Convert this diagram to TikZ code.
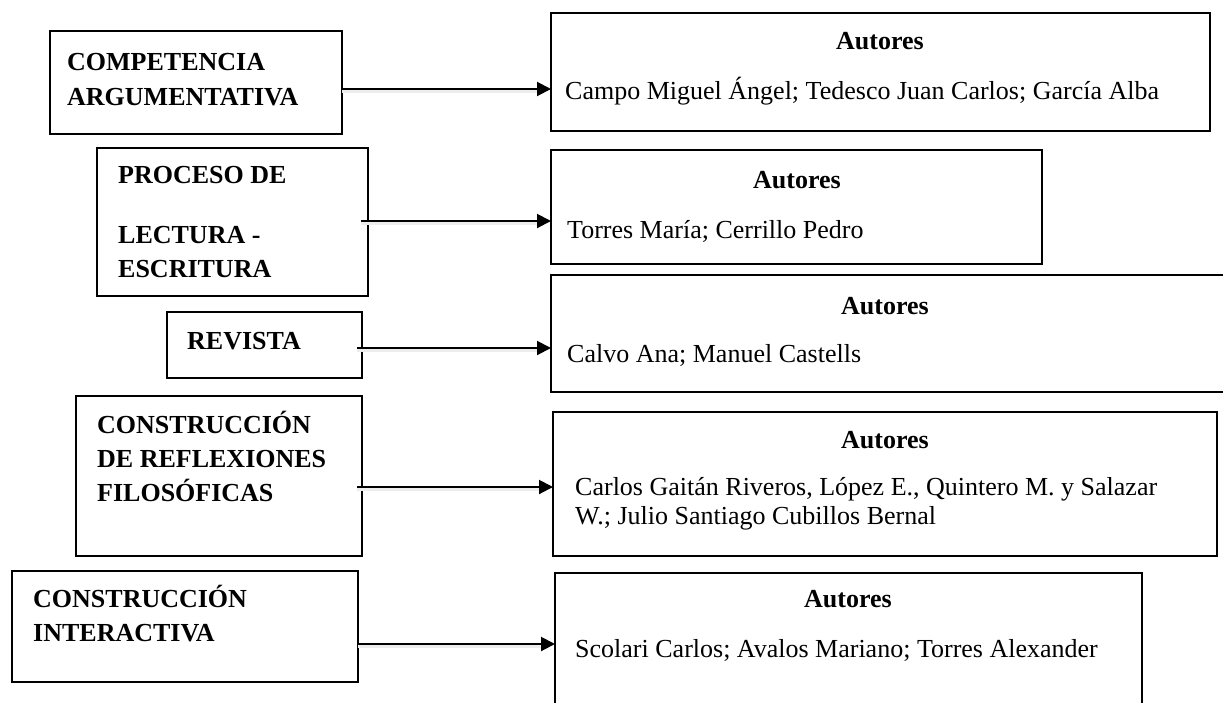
\documentclass[tikz,border=0pt]{standalone}
\usepackage{fontspec}
\setmainfont{Liberation Serif}
\usetikzlibrary{arrows.meta}
\begin{document}
\begin{tikzpicture}[x=1pt,y=-1pt,
  frame/.style={draw=black,line width=1.6pt,inner sep=0pt,outer sep=0pt,anchor=north west},
  lt/.style={anchor=base west,inner sep=0pt,font=\bfseries\fontsize{26}{30}\selectfont},
  rt/.style={anchor=base west,inner sep=0pt,font=\fontsize{26}{30}\selectfont},
  au/.style={anchor=base,inner sep=0pt,font=\bfseries\fontsize{26}{30}\selectfont},
  arr/.style={line width=2pt,-{Triangle[length=14pt,width=14pt]}},
  shade/.style={line width=3pt,draw=black!7,shorten >=14pt,transform canvas={yshift=-2pt}}]
\useasboundingbox (0,0) rectangle (1223,702);
% left boxes
\node[frame,minimum width=292pt,minimum height=103pt] (l1) at (50,31) {};
\node[frame,minimum width=271pt,minimum height=148pt] (l2) at (97,148) {};
\node[frame,minimum width=195pt,minimum height=66pt] (l3) at (167,312) {};
\node[frame,minimum width=286pt,minimum height=160pt] (l4) at (76,396) {};
\node[frame,minimum width=346pt,minimum height=111pt] (l5) at (12,571) {};
% right boxes
\node[frame,minimum width=659pt,minimum height=118pt] (r1) at (551,13) {};
\node[frame,minimum width=491pt,minimum height=114pt] (r2) at (551,150) {};
\node[frame,minimum width=680pt,minimum height=117pt] (r3) at (551,275) {};
\node[frame,minimum width=664pt,minimum height=144pt] (r4) at (553,412) {};
\node[frame,minimum width=587pt,minimum height=140pt] (r5) at (555,573) {};
% left texts
\node[lt] (l1a) at (67,70) {COMPETENCIA};
\node[lt] (l1b) at (67,105) {ARGUMENTATIVA};
\node[lt] (l2a) at (118,183) {PROCESO DE};
\node[lt] (l2b) at (118,243) {LECTURA -};
\node[lt] (l2c) at (118,277) {ESCRITURA};
\node[lt] (l3a) at (187,349) {REVISTA};
\node[lt] (l4a) at (97,433) {CONSTRUCCIÓN};
\node[lt] (l4b) at (97,467) {DE REFLEXIONES};
\node[lt] (l4c) at (97,501) {FILOSÓFICAS};
\node[lt] (l5a) at (33,607) {CONSTRUCCIÓN};
\node[lt] (l5b) at (33,641) {INTERACTIVA};
% right texts
\node[au] (r1h) at (880,49) {Autores};
\node[rt] (r1a) at (565,99) {Campo Miguel Ángel; Tedesco Juan Carlos; García Alba};
\node[au] (r2h) at (797,188) {Autores};
\node[rt] (r2a) at (567,238) {Torres María; Cerrillo Pedro};
\node[au] (r3h) at (885,314) {Autores};
\node[rt] (r3a) at (567,362) {Calvo Ana; Manuel Castells};
\node[au] (r4h) at (885,448) {Autores};
\node[rt] (r4a) at (575,495) {Carlos Gaitán Riveros, López E., Quintero M. y Salazar};
\node[rt] (r4b) at (575,524) {W.; Julio Santiago Cubillos Bernal};
\node[au] (r5h) at (848,607) {Autores};
\node[rt] (r5a) at (575,657) {Scolari Carlos; Avalos Mariano; Torres Alexander};
% arrow levels
\coordinate (y1) at (0,89);
\coordinate (y2) at (0,221);
\coordinate (y3) at (0,348);
\coordinate (y4) at (0,487);
\coordinate (y5) at (0,644);
% arrow shadows
\draw[shade] (l1.east |- y1) -- (r1.west |- y1);
\draw[shade] ([xshift=-7pt]l2.east |- y2) -- (r2.west |- y2);
\draw[shade] ([xshift=-5pt]l3.east |- y3) -- (r3.west |- y3);
\draw[shade] ([xshift=-5pt]l4.east |- y4) -- (r4.west |- y4);
\draw[shade] (l5.east |- y5) -- (r5.west |- y5);
% arrows
\draw[arr] (l1.east |- y1) -- (r1.west |- y1);
\draw[arr] ([xshift=-7pt]l2.east |- y2) -- (r2.west |- y2);
\draw[arr] ([xshift=-5pt]l3.east |- y3) -- (r3.west |- y3);
\draw[arr] ([xshift=-5pt]l4.east |- y4) -- (r4.west |- y4);
\draw[arr] (l5.east |- y5) -- (r5.west |- y5);
\end{tikzpicture}
\end{document}
